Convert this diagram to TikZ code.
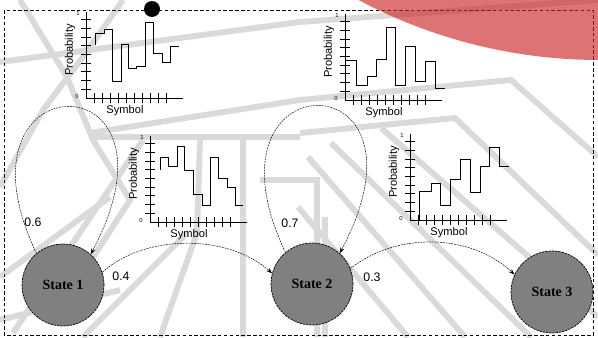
\documentclass[tikz,border=0pt]{standalone}
\usepackage{fontspec}
\setmainfont{Liberation Serif}
\newfontfamily\labelfont{Liberation Sans}
\usetikzlibrary{arrows.meta}

\definecolor{stripegray}{RGB}{218,218,218}
\definecolor{statefill}{RGB}{128,128,128}
\definecolor{blobred}{RGB}{204,40,40}

\tikzset{
  stripe/.style={draw=stripegray, line width=5pt, line join=miter},
  frame/.style={draw=black, line width=0.8pt, dash pattern=on 3pt off 2pt},
  axisline/.style={draw=black, line width=0.7pt},
  histline/.style={draw=black, line width=0.8pt},
  axistext/.style={font=\labelfont\fontsize{9.5}{10}\selectfont, inner sep=0pt},
  ticktext/.style={font=\labelfont\fontsize{5}{5}\selectfont, inner sep=0pt},
  statenode/.style={circle, fill=statefill, draw=black, line width=0.6pt,
    dash pattern=on 2pt off 0.8pt, minimum size=2.46cm, inner sep=0pt,
    font=\bfseries\fontsize{12}{12}\selectfont},
  trans/.style={draw=black, line width=0.4pt, dash pattern=on 1.6pt off 0.8pt,
    -{Stealth[length=5pt, width=3.5pt]}},
  problabel/.style={font=\labelfont\fontsize{10.5}{11}\selectfont, inner sep=0pt},
}

% axes, ticks and captions of one emission histogram, origin at (#1,#2)
\newcommand\histframe[3]{%
  \draw[axisline] (#1,#2) -- ({#1},{#2-86});
  \draw[axisline] (#1,#2) -- ({#1+97},{#2});
  \foreach \i in {1,...,9}
    \draw[axisline] ({#1-5},{#2-\i*8.7}) -- ({#1+5},{#2-\i*8.7});
  \foreach \i in {1,...,10}
    \draw[axisline] ({#1+\i*8},{#2-5}) -- ({#1+\i*8},{#2+5});
  \node[axistext, rotate=90] (#3prob) at ({#1-16},{#2-48}) {Probability};
  \node[axistext] (#3sym) at ({#1+39},{#2+13}) {Symbol};
  \node[ticktext] (#3one) at ({#1-8},{#2-85}) {1};
  \node[ticktext] (#3zero) at ({#1-9},{#2-2}) {0};
}

\begin{document}
\begin{tikzpicture}[x=0.03cm, y=-0.03cm]
\useasboundingbox (0,0) rectangle (598,337);
\clip (0,0) rectangle (598,337);
\fill[white] (0,0) rectangle (598,337);

% light background texture
\draw[stripe] (0,62) -- (300,22) -- (598,0);
\draw[stripe] (20,0) -- (67,77) -- (93,140) -- (130,200) -- (90,262);
\draw[stripe] (0,187) -- (43,110) -- (83,57) -- (123,0);
\draw[stripe] (13,333) -- (93,213) -- (143,140);
\draw[stripe] (83,337) -- (187,233);
\draw[stripe] (0,277) -- (110,197);
\draw[stripe] (93,137) -- (300,137) -- (298,137);
\draw[stripe] (243,140) -- (243,337);
\draw[stripe] (200,140) -- (197,233) -- (160,337);
\draw[stripe] (0,320) -- (120,290);
\draw[stripe] (90,133) -- (300,100) -- (511,80) -- (598,157);
\draw[stripe] (300,133) -- (455,118) -- (598,255);
\draw[stripe] (308,157) -- (465,337);
\draw[stripe] (331,143) -- (531,337);
\draw[stripe] (381,128) -- (598,317);
\draw[stripe] (298,207) -- (408,337);
\draw[stripe] (325,217) -- (325,337);
\draw[stripe] (260,180) -- (290,180) -- (317,180) -- (317,337);

% outer dashed frame
\draw[frame] (4,10) rectangle (593,335);

% emission histograms
\histframe{86}{98}{ha}
\draw[histline] (95,45) -- (95,33) -- (104,33) -- (104,29) -- (112,29) -- (112,81)
  -- (121,81) -- (121,44) -- (128,44) -- (128,68) -- (136,68) -- (136,66)
  -- (145,66) -- (145,22) -- (153,22) -- (153,53) -- (162,53) -- (162,62)
  -- (170,62) -- (170,46) -- (179,46);

\histframe{150}{222}{hb}
\draw[histline] (160,170) -- (160,157) -- (168,157) -- (168,166) -- (177,166)
  -- (177,146) -- (184,146) -- (184,170) -- (193,170) -- (193,194) -- (202,194)
  -- (202,205) -- (210,205) -- (210,157) -- (218,157) -- (218,178) -- (227,178)
  -- (227,187) -- (235,187) -- (235,205) -- (243,205);

\histframe{345}{100}{hc}
\draw[histline] (345,60) -- (356,60) -- (356,85) -- (367,85) -- (367,76)
  -- (376,76) -- (376,59) -- (386,59) -- (386,27) -- (395,27) -- (395,85)
  -- (405,85) -- (405,46) -- (415,46) -- (415,81) -- (425,81) -- (425,61)
  -- (435,61) -- (435,88) -- (445,88);

\histframe{410}{220}{hd}
\draw[histline] (419,220) -- (419,191) -- (431,191) -- (431,183) -- (440,183)
  -- (440,205) -- (450,205) -- (450,179) -- (460,179) -- (460,159) -- (470,159)
  -- (470,192) -- (480,192) -- (480,166) -- (489,166) -- (489,147) -- (499,147)
  -- (499,166) -- (509,166);

% states
\node[statenode] (s1) at (63,285) {State 1};
\node[statenode] (s2) at (312,284) {State 2};
\node[statenode] (s3) at (552,292) {State 3};

% transitions
\draw[trans] (s1.130) .. controls +(-93,-195) and +(105,-197) .. (s1.48);
\draw[trans] (s2.130) .. controls +(-93,-195) and +(105,-197) .. (s2.48);
\draw[trans] (s1.18) .. controls +(42,-38) and +(-45,-40) .. (s2.165);
\draw[trans] (s2.22) .. controls +(45,-36) and +(-45,-42) .. (s3.155);

\node[problabel] (p11) at (33,222) {0.6};
\node[problabel] (p12) at (121,276) {0.4};
\node[problabel] (p22) at (290,223) {0.7};
\node[problabel] (p23) at (372,277) {0.3};

% decorations on the frame
\fill[blobred, opacity=0.65] (600,-455) circle[radius=515];
\fill[black] (152,9) circle[radius=8];
\end{tikzpicture}
\end{document}
